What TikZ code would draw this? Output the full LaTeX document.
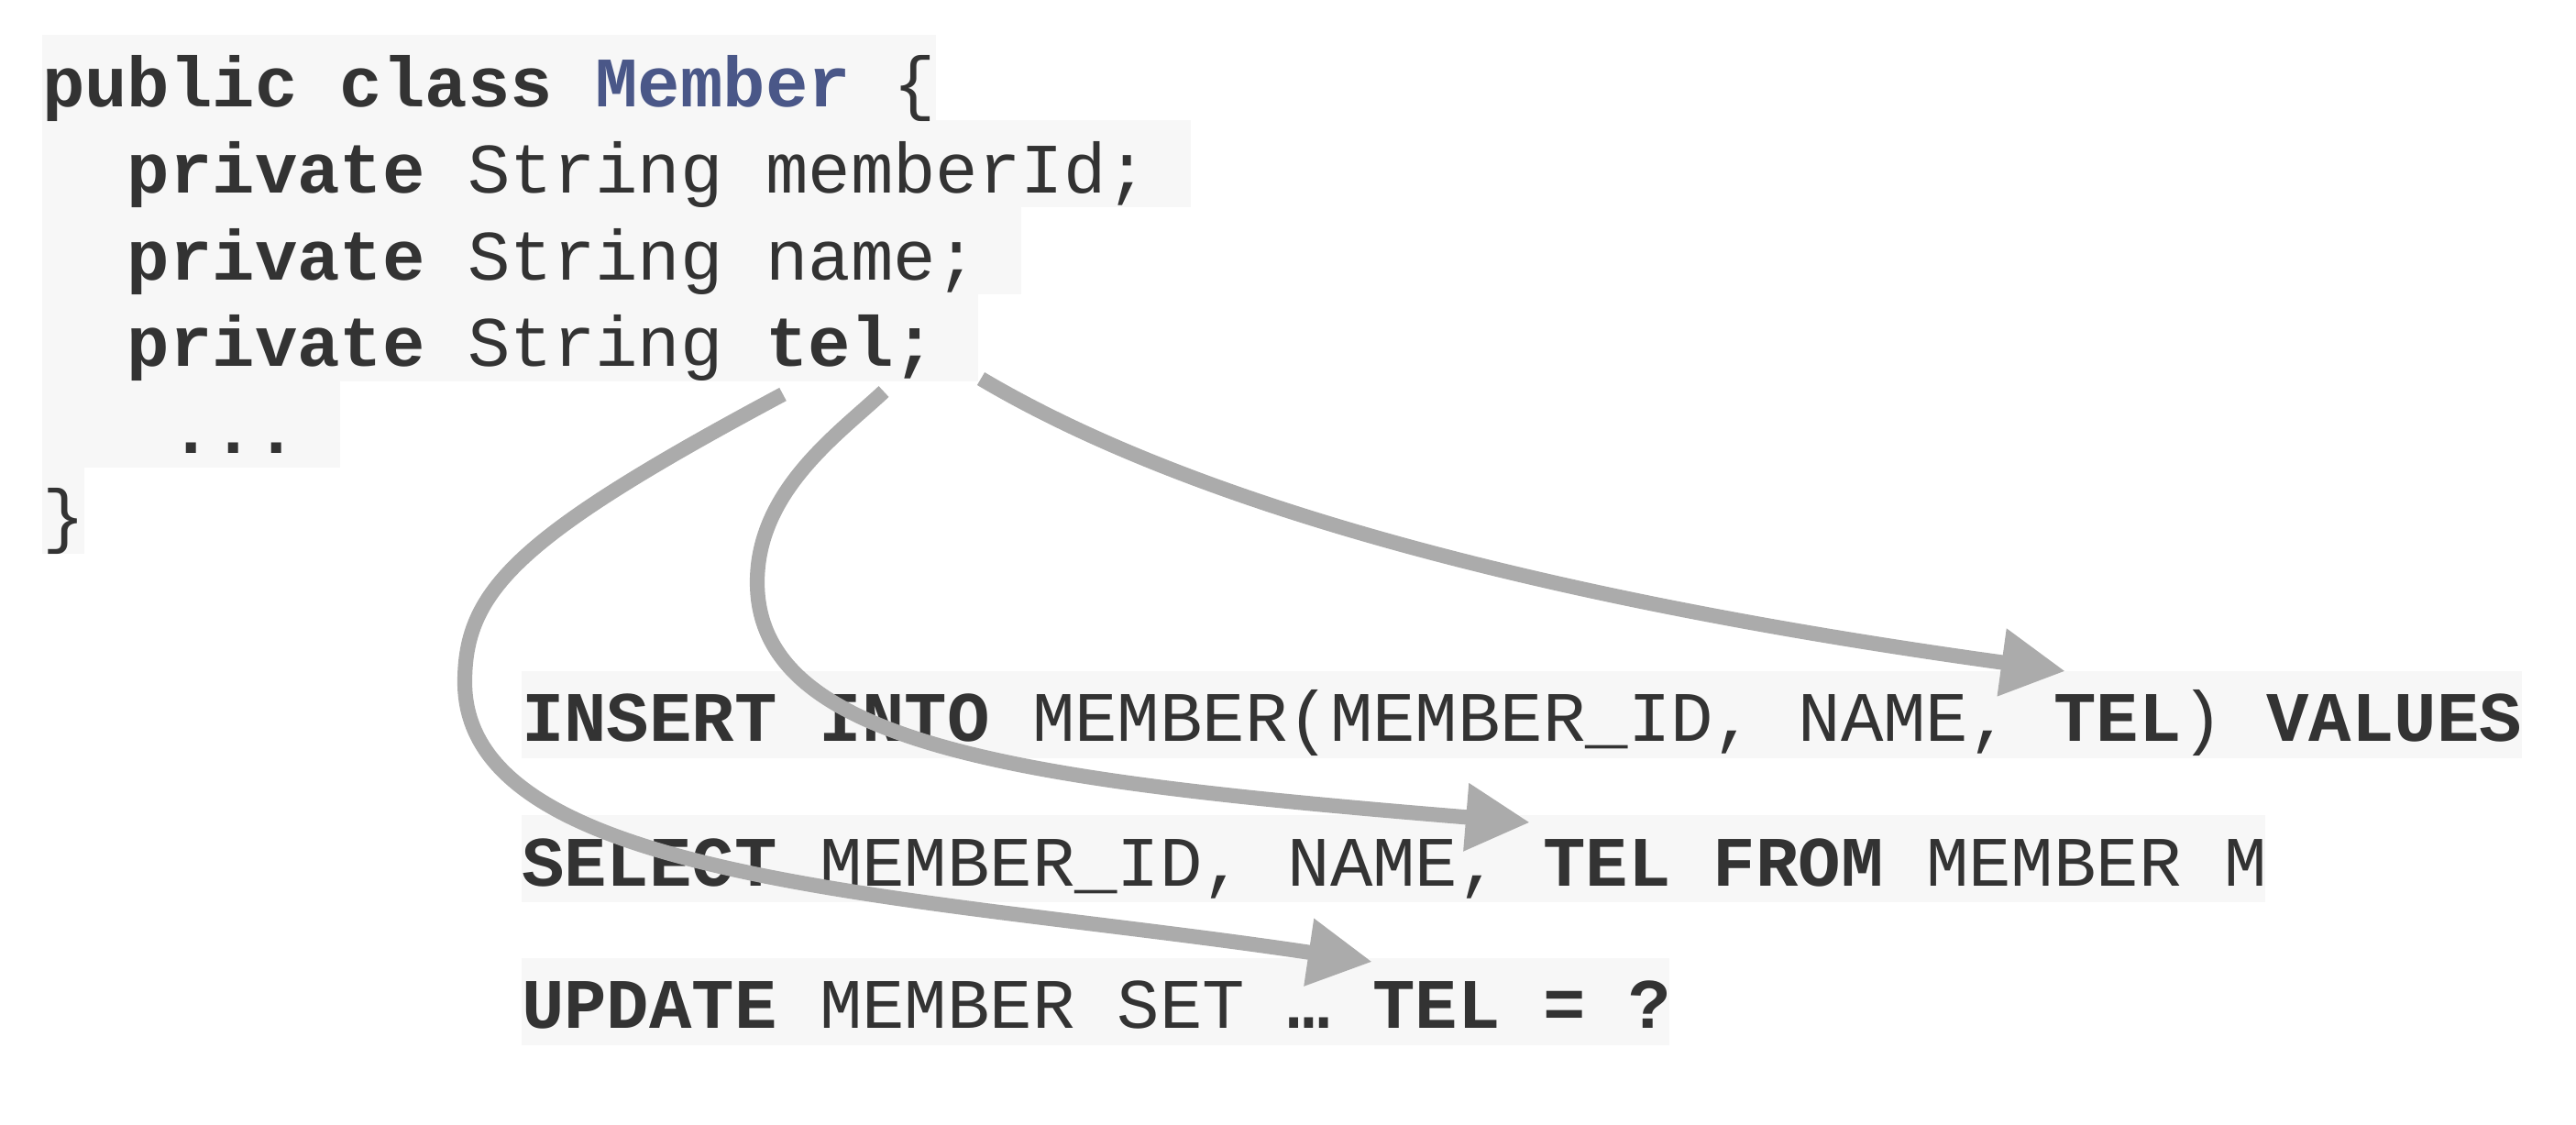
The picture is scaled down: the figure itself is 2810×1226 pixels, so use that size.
\documentclass[tikz,border=0pt]{standalone}
\usepackage{fontspec}
\newfontfamily\codefont{Liberation Mono}
\usetikzlibrary{arrows.meta}
\definecolor{codefg}{HTML}{333333}
\definecolor{codebg}{HTML}{F7F7F7}
\definecolor{classblue}{HTML}{4A5788}
\definecolor{arrowgray}{HTML}{ABABAB}
\begin{document}
\begin{tikzpicture}[x=0.01cm,y=-0.01cm,
  codeline/.style={anchor=base west, inner sep=0pt, outer sep=0pt, text=codefg,
    font=\codefont\fontsize{22pt}{26pt}\selectfont},
  linebox/.style={fill=codebg, draw=none},
  link/.style={draw=arrowgray, line width=4.6pt, -{Triangle[length=7mm,width=7mm]}}]
\useasboundingbox (0,0) rectangle (2810,1226);

% code block backgrounds
\fill[linebox] (46,38) rectangle (1021,131);
\fill[linebox] (46,131) rectangle (1299,226);
\fill[linebox] (46,226) rectangle (1114,321);
\fill[linebox] (46,321) rectangle (1067,416);
\fill[linebox] (46,416) rectangle (371,510);
\fill[linebox] (46,510) rectangle (92,604);

% SQL backgrounds
\fill[linebox] (569,732) rectangle (2751,827);
\fill[linebox] (569,889) rectangle (2471,984);
\fill[linebox] (569,1045) rectangle (1821,1140);

% code text
\node[codeline] (l1) at (46,116) {{\bfseries public class \textcolor{classblue}{Member}} \{};
\node[codeline] (l2) at (138.8,210) {{\bfseries private} String memberId;};
\node[codeline] (l3) at (138.8,305) {{\bfseries private} String name;};
\node[codeline] (l4) at (138.8,399) {{\bfseries private} String {\bfseries tel;}};
\node[codeline] (l5) at (185.2,494) {\bfseries ...};
\node[codeline] (l6) at (46,588) {\}};

% SQL text
\node[codeline] (ins) at (569,808) {{\bfseries INSERT INTO} MEMBER(MEMBER\_ID, NAME, {\bfseries TEL}) {\bfseries VALUES}};
\node[codeline] (sel) at (569,966) {{\bfseries SELECT} MEMBER\_ID, NAME, {\bfseries TEL FROM} MEMBER M};
\node[codeline] (upd) at (569,1121) {{\bfseries UPDATE} MEMBER SET {\bfseries … TEL = ?}};

% connector end points
\coordinate (s1) at (1070,413);
\coordinate (e1) at (2253,732);
\coordinate (s2) at (964,427);
\coordinate (m2) at (826,635);
\coordinate (e2) at (1669,897);
\coordinate (s3) at (854,430);
\coordinate (m3) at (507,744);
\coordinate (e3) at (1497,1049);

% arrows
\draw[link] (s1) .. controls (1360,585) and (1840,675) .. (e1);
\draw[link] (s2) .. controls (915,473) and (826,535) .. (m2)
            .. controls (826,815) and (1122,852) .. (e2);
\draw[link] (s3) .. controls (564,585) and (507,644) .. (m3)
            .. controls (507,964) and (1002,975) .. (e3);
\end{tikzpicture}
\end{document}
